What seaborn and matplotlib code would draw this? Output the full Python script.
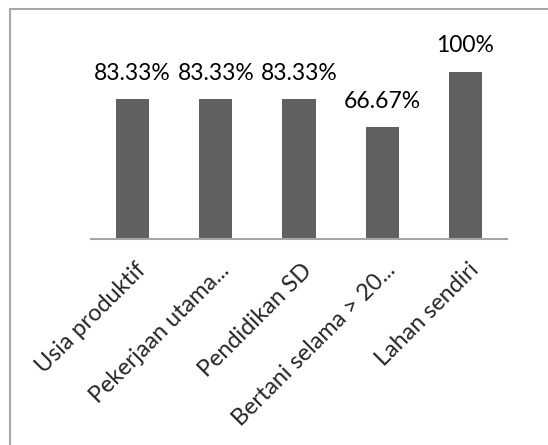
import matplotlib
matplotlib.use("Agg")
import matplotlib.pyplot as plt
import matplotlib.transforms as mtransforms
from matplotlib.lines import Line2D
import seaborn as sns
import pandas as pd

categories = ["Usia produktif", "Pekerjaan utama...", "Pendidikan SD",
              "Bertani selama > 20...", "Lahan sendiri"]
values = [83.33, 83.33, 83.33, 66.67, 100.0]
value_labels = ["83.33%", "83.33%", "83.33%", "66.67%", "100%"]

sns.set_style("white")
plt.rcParams["font.family"] = ["Lato", "DejaVu Sans"]

df = pd.DataFrame({"cat": categories, "val": values})

fig = plt.figure(figsize=(5.48, 4.45), dpi=100)
ax = fig.add_axes([91/548, 1 - 239/445, 416/548, 201/445])

sns.barplot(data=df, x="cat", y="val", color="#606060", width=0.4,
            saturation=1, ax=ax, edgecolor="none")
ax.set_ylim(0, 120)
ax.set_xlim(-0.5, len(categories) - 0.5)
ax.set_xlabel("")
ax.set_ylabel("")
ax.set_yticks([])
for s in ["top", "right", "left"]:
    ax.spines[s].set_visible(False)
ax.spines["bottom"].set_color("#a6a6a6")
ax.spines["bottom"].set_linewidth(1.5)
ax.tick_params(axis="x", length=0, pad=6)

for i, (v, lab) in enumerate(zip(values, value_labels)):
    ax.annotate(lab, (i, v), xytext=(0, 11), textcoords="offset points",
                ha="center", va="bottom", fontsize=16.5, color="#000000")

ax.set_xticks(range(len(categories)))
ax.set_xticklabels(categories, rotation=45, ha="right", va="center",
                   rotation_mode="anchor", fontsize=16.8)
offset = mtransforms.ScaledTranslation(7/72, -14/72, fig.dpi_scale_trans)
for t in ax.get_xticklabels():
    t.set_transform(t.get_transform() + offset)

# frame lines (left and top) of the chart area
fig.add_artist(Line2D([10/548, 10/548], [0, 1 - 9/445], transform=fig.transFigure,
                      color="#a6a6a6", linewidth=1.5))
fig.add_artist(Line2D([10/548, 1], [1 - 9/445, 1 - 9/445], transform=fig.transFigure,
                      color="#a6a6a6", linewidth=1.5))

fig.savefig("out.png", dpi=100)
